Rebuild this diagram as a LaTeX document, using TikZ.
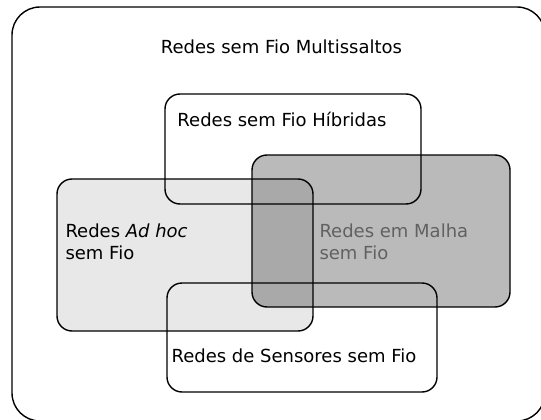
\documentclass[tikz,border=0pt]{standalone}
\usepackage{fontspec}
\setmainfont{DejaVu Sans}
\usetikzlibrary{positioning}

\begin{document}
\begin{tikzpicture}[x=1pt,y=-1pt,
    caixa/.style={draw,line width=1.4pt,rounded corners=15pt,inner sep=0pt},
    rotulo/.style={inner sep=0pt,align=left,font=\fontsize{18}{22}\selectfont}]
  \useasboundingbox (0,0) rectangle (541,420);
  \clip (0,0) rectangle (541,420);
  \draw[line width=1.4pt,rounded corners=28pt] (12,7) rectangle (545,421);
  \coordinate (multi) at (278.5,7);
  \node[caixa,fill=gray!18,minimum width=256pt,minimum height=152pt] (adhoc) at (185,255) {};
  \node[caixa,fill=black,fill opacity=0.27,minimum width=258pt,minimum height=152pt] (malha) at (381,231) {};
  \node[caixa,minimum width=256pt,minimum height=110pt] (hibrida) at (293,149) {};
  \node[caixa,minimum width=270pt,minimum height=109pt] (sensor) at (302,337.5) {};
  %% textos
  \node[rotulo,anchor=base] (titulo) at ([xshift=3pt,yshift=-47pt]multi) {Redes sem Fio Multissaltos};
  \node[rotulo,anchor=base] (thibrida) at ([xshift=-11pt,yshift=-33pt]hibrida.north) {Redes sem Fio Híbridas};
  \node[rotulo,anchor=west] (tadhoc) at ([xshift=9pt,yshift=13pt]adhoc.west) {Redes \textit{Ad hoc}\\sem Fio};
  \node[rotulo,anchor=west,text=black!62] (tmalha) at ([xshift=68pt,yshift=-11pt]malha.west) {Redes em Malha\\sem Fio};
  \node[rotulo,anchor=base] (tsensor) at ([xshift=-8pt,yshift=-80pt]sensor.north) {Redes de Sensores sem Fio};
\end{tikzpicture}
\end{document}
